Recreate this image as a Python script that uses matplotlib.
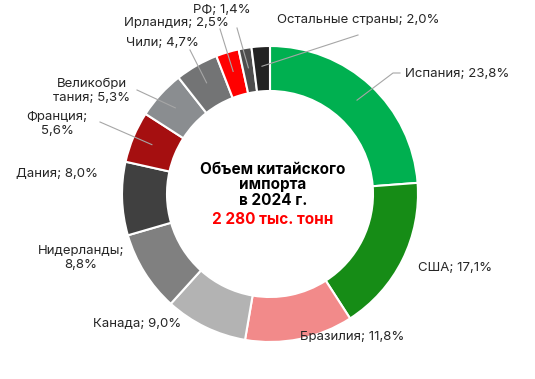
import numpy as np
import matplotlib.pyplot as plt

countries = ["Испания", "США", "Бразилия", "Канада", "Нидерланды", "Дания",
             "Франция", "Великобритания", "Чили", "Ирландия", "РФ", "Остальные страны"]
shares = [23.8, 17.1, 11.8, 9.0, 8.8, 8.0, 5.6, 5.3, 4.7, 2.5, 1.4, 2.0]
label_texts = ["Испания; 23,8%", "США; 17,1%", "Бразилия; 11,8%", "Канада; 9,0%",
               "Нидерланды;\n8,8%", "Дания; 8,0%", "Франция;\n5,6%",
               "Великобри\nтания; 5,3%", "Чили; 4,7%", "Ирландия; 2,5%",
               "РФ; 1,4%", "Остальные страны; 2,0%"]
colors = ["#00B050", "#168C16", "#F28A8A", "#B3B3B3", "#808080", "#404040",
          "#A50F10", "#8A8D90", "#737475", "#FF0000", "#4D4D4D", "#222222"]
center_title = "Объем китайского\nимпорта\nв 2024 г."
center_total = "2 280 тыс. тонн"

W, H = 535, 379
plt.rcParams['font.family'] = ['Inter', 'DejaVu Sans']

fig = plt.figure(figsize=(W / 100, H / 100), dpi=100)
ax = fig.add_axes([0, 0, 1, 1])

cx, cy, R = 270, H - 194, 148
wedges, _ = ax.pie(shares, startangle=90, counterclock=False, radius=R, center=(cx, cy),
                   colors=colors, frame=True,
                   wedgeprops=dict(width=45, edgecolor='white', linewidth=1.5))
ax.set_xlim(0, W)
ax.set_ylim(0, H)
ax.axis('off')

# label positions (pixel, y from top), alignment, leader start point
layout = {
    "Испания": ((405, 74), 'left', (400, 73)),
    "США": ((418, 268), 'left', None),
    "Бразилия": ((352, 337), 'center', None),
    "Канада": ((137, 324), 'center', None),
    "Нидерланды": ((81, 258), 'center', None),
    "Дания": ((57, 174), 'center', None),
    "Франция": ((57, 124), 'center', (100, 122)),
    "Великобритания": ((92, 91), 'center', (137, 90)),
    "Чили": ((162, 43), 'center', (190, 50)),
    "Ирландия": ((176, 23), 'center', (220, 29)),
    "РФ": ((222, 10), 'center', (237, 28)),
    "Остальные страны": ((358, 20), 'center', (358, 35)),
}

for w, name, txt in zip(wedges, countries, label_texts):
    (tx, ty), ha, start = layout[name]
    ax.text(tx, H - ty, txt, ha=ha, va='center', fontsize=9.5, color='#262626',
            linespacing=1.15)
    if start is not None:
        mid = np.deg2rad((w.theta1 + w.theta2) / 2)
        ex, ey = cx + 128 * np.cos(mid), cy + 128 * np.sin(mid)
        sx, sy = start[0], H - start[1]
        if name == "Испания":
            ax.plot([sx, sx - 7, ex], [sy, sy, ey], color='#A6A6A6', lw=0.8)
        else:
            ax.plot([sx, ex], [sy, ey], color='#A6A6A6', lw=0.8)

ax.text(273, H - 185, center_title, ha='center', va='center', fontsize=11,
        fontweight='bold', color='black', linespacing=1.05)
ax.text(273, H - 220, center_total, ha='center', va='center', fontsize=11,
        fontweight='bold', color='#FF0000')

fig.savefig("out.png", dpi=100, facecolor='white')
